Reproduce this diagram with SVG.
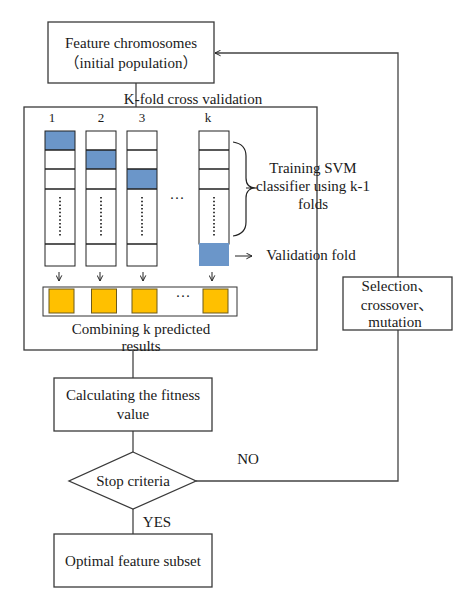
<svg xmlns="http://www.w3.org/2000/svg" width="474" height="613" viewBox="0 0 474 613">
<defs>
<style>
.t{font-family:"Liberation Serif","Times New Roman","Noto Sans CJK SC",serif;font-size:15px;fill:#1a1a1a;text-anchor:middle}
.box{fill:#fff;stroke:#3a3a3a;stroke-width:1.3}
.col{fill:none;stroke:#222;stroke-width:1}
.blue{fill:#6b96c9;stroke:none}
.yel{fill:#ffc000;stroke:#6b5a1e;stroke-width:1}
.ln{fill:none;stroke:#444;stroke-width:1.3}
.thin{fill:none;stroke:#222;stroke-width:1}
.dots{fill:none;stroke:#111;stroke-width:1.6;stroke-dasharray:1.5 2.2}
</style>
<marker id="ah" viewBox="0 0 10 10" refX="9" refY="5" markerWidth="7" markerHeight="7" orient="auto" markerUnits="userSpaceOnUse">
<path d="M1,1 L9,5 L1,9" fill="none" stroke="#222" stroke-width="1.4"/>
</marker>
</defs>

<g id="connectors">
<path class="ln" d="M136,83 V107"/>
<path class="ln" d="M133,350 V378"/>
<path class="ln" d="M133,431 V452"/>
<path class="ln" d="M133,509 V534"/>
<path class="ln" d="M196,481 H398 V330"/>
<path class="ln" d="M398,277 V53 H215" marker-end="url(#ah)"/>
</g>

<g id="feature">
<rect class="box" x="48" y="22" width="166" height="61"/>
<text class="t" x="131" y="48">Feature chromosomes</text>
<text class="t" x="131" y="68">（initial population）</text>
</g>

<g id="kfold">
<rect class="box" x="24" y="107" width="293" height="243"/>
<text class="t" x="193" y="104">K-fold cross validation</text>
<text class="t" x="52" y="122" style="font-size:13px">1</text>
<text class="t" x="101" y="122" style="font-size:13px">2</text>
<text class="t" x="142" y="122" style="font-size:13px">3</text>
<text class="t" x="208" y="122" style="font-size:13px">k</text>

<g id="col1">
<rect class="blue" x="45" y="131" width="30" height="19"/>
<rect class="col" x="45" y="131" width="30" height="135"/>
<path class="thin" d="M45,150 H75 M45,169 H75 M45,189 H75 M45,244 H75" style="stroke-width:1.3"/>
<path class="dots" d="M60,197 V236"/>
</g>
<g id="col2">
<rect class="blue" x="86" y="150" width="30" height="19"/>
<rect class="col" x="86" y="131" width="30" height="135"/>
<path class="thin" d="M86,150 H116 M86,169 H116 M86,189 H116 M86,244 H116" style="stroke-width:1.3"/>
<path class="dots" d="M101,197 V236"/>
</g>
<g id="col3">
<rect class="blue" x="127" y="169" width="30" height="20"/>
<rect class="col" x="127" y="131" width="30" height="135"/>
<path class="thin" d="M127,150 H157 M127,169 H157 M127,189 H157 M127,244 H157" style="stroke-width:1.3"/>
<path class="dots" d="M142,197 V236"/>
</g>
<text class="t" x="177" y="203">···</text>
<g id="colk">
<rect class="col" x="199" y="131" width="30" height="113"/>
<path class="thin" d="M199,150 H229 M199,169 H229 M199,189 H229" style="stroke-width:1.3"/>
<path class="dots" d="M214,197 V236"/>
<rect class="blue" x="199" y="243" width="30" height="23"/>
</g>

<path class="thin" d="M233,142 Q246,144 246,156 V178 Q246,188 256,188 M246,188 H257 M256,188 Q246,188 246,198 V222 Q246,234 233,236" style="stroke-width:1.2"/>
<text class="t" x="313" y="173">Training SVM</text>
<text class="t" x="313" y="191">classifier using k-1</text>
<text class="t" x="313" y="209">folds</text>

<path class="thin" d="M235,256 H252" marker-end="url(#ah)"/>
<text class="t" x="311" y="260">Validation fold</text>

<path class="thin" d="M59,272 V281" marker-end="url(#ah)"/>
<path class="thin" d="M100,272 V281" marker-end="url(#ah)"/>
<path class="thin" d="M143,272 V281" marker-end="url(#ah)"/>
<path class="thin" d="M212,272 V281" marker-end="url(#ah)"/>

<rect x="43" y="287" width="194" height="29" fill="#fff" stroke="#333" stroke-width="1"/>
<rect class="yel" x="49" y="289" width="25" height="24"/>
<rect class="yel" x="91.5" y="289" width="25" height="24"/>
<rect class="yel" x="132" y="289" width="25" height="24"/>
<rect class="yel" x="203" y="289" width="25" height="24"/>
<text class="t" x="183" y="301">···</text>
<text class="t" x="141" y="334">Combining k predicted</text>
<text class="t" x="141" y="351">results</text>
</g>

<g id="calc">
<rect class="box" x="54" y="378" width="158" height="53"/>
<text class="t" x="133" y="400">Calculating the fitness</text>
<text class="t" x="133" y="419">value</text>
</g>

<g id="stop">
<path class="box" d="M133,452 L196,481 L133,509 L69,481 Z"/>
<text class="t" x="133" y="486">Stop criteria</text>
</g>

<text class="t" x="248" y="464">NO</text>
<text class="t" x="157" y="527">YES</text>

<g id="optimal">
<rect class="box" x="54" y="534" width="158" height="53"/>
<text class="t" x="133" y="566">Optimal feature subset</text>
</g>

<g id="selection">
<rect class="box" x="343" y="277" width="109" height="53"/>
<text class="t" x="397" y="291">Selection、</text>
<text class="t" x="397" y="310">crossover、</text>
<text class="t" x="395" y="327">mutation</text>
</g>
</svg>
